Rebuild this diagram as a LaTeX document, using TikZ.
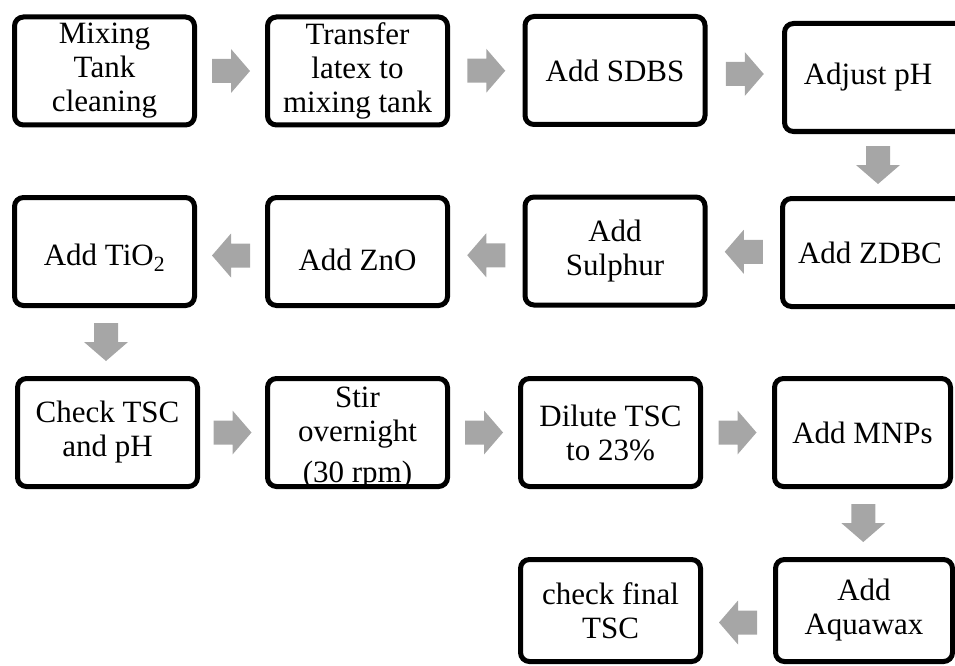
\documentclass[tikz,border=0pt]{standalone}
\usepackage{fontspec}
\setmainfont{Liberation Serif}
\usetikzlibrary{calc}
\definecolor{arrowgray}{HTML}{A6A6A6}
\tikzset{
  stepbox/.style={draw=black, line width=5pt, rounded corners=9pt, fill=white,
    minimum width=180pt, minimum height=108pt, inner sep=0pt, align=center,
    font=\fontsize{31}{34}\selectfont},
  steptext/.style={inner sep=0pt, align=center, font=\fontsize{31}{34}\selectfont},
  pics/barrow/.style={code={
    \fill[arrowgray] (-19,-12) -- (0,-12) -- (0,-22) -- (19,0) -- (0,22) -- (0,12) -- (-19,12) -- cycle;}}
}
\begin{document}
\begin{tikzpicture}[x=1pt,y=-1pt]
\useasboundingbox (0,0) rectangle (955,666);
\clip (0,0) rectangle (955,666);
% row 1
\node[stepbox] (b1) at (104.5,71) {Mixing\\Tank\\cleaning};
\node[stepbox] (b2) at (357.5,71) {Transfer\\latex to\\mixing tank};
\node[stepbox] (b3) at (615,70.5) {Add SDBS};
\node[stepbox, minimum width=192pt] (b4) at (880.5,77.5) {\hspace*{-25pt}Adjust pH};
% row 2
\node[stepbox, minimum width=194pt] (b5) at (879.5,252.5) {\hspace*{-19pt}Add ZDBC};
\node[stepbox] (b6) at (615,251) {Add\\Sulphur};
\node[stepbox] (b7) at (357.5,251.5) {};
\node[steptext] (t7) at ($(b7)+(0,8)$) {Add ZnO};
\node[stepbox] (b8) at (104.5,251.5) {};
\node[steptext] (t8) at ($(b8)+(0,6)$) {Add TiO\textsubscript{2}};
% row 3
\node[stepbox] (b9) at (107.5,432.5) {Check TSC\\and pH};
\node[stepbox] (b10) at (357.5,432.5) {};
\node[steptext] (t10) at ($(b10)+(0,6)$) {Stir\\overnight\\[7pt](30 rpm)};
\node[stepbox] (b11) at (610.5,432.5) {Dilute TSC\\to 23\%};
\node[stepbox, minimum width=176pt] (b12) at (862.5,432.5) {Add MNPs};
% row 4
\node[stepbox, minimum width=177pt, minimum height=102pt] (b13) at (864,610.5) {Add\\Aquawax};
\node[stepbox, minimum height=102pt] (b14) at (610.5,610.5) {check final\\TSC};
% connectors
\path ($(b1.east)!.5!(b2.west)$) pic{barrow};
\path ($(b2.east)!.5!(b3.west)$) pic{barrow};
\path ($(b3.east)!.5!(b4.west)$) pic{barrow};
\path ($(b4.south)!.5!(b5.north)-(2,0)$) pic[rotate=-90]{barrow};
\path ($(b5.west)!.5!(b6.east)$) pic[rotate=180]{barrow};
\path ($(b6.west)!.5!(b7.east)+(0,4)$) pic[rotate=180]{barrow};
\path ($(b7.west)!.5!(b8.east)+(0,4)$) pic[rotate=180]{barrow};
\path ($(b8.south)!.5!(b9.north)$) pic[rotate=-90]{barrow};
\path ($(b9.east)!.5!(b10.west)$) pic{barrow};
\path ($(b10.east)!.5!(b11.west)$) pic{barrow};
\path ($(b11.east)!.5!(b12.west)$) pic{barrow};
\path ($(b12.south)!.5!(b13.north)$) pic[rotate=-90]{barrow};
\path ($(b13.west)!.5!(b14.east)+(0,12)$) pic[rotate=180]{barrow};
\end{tikzpicture}
\end{document}
